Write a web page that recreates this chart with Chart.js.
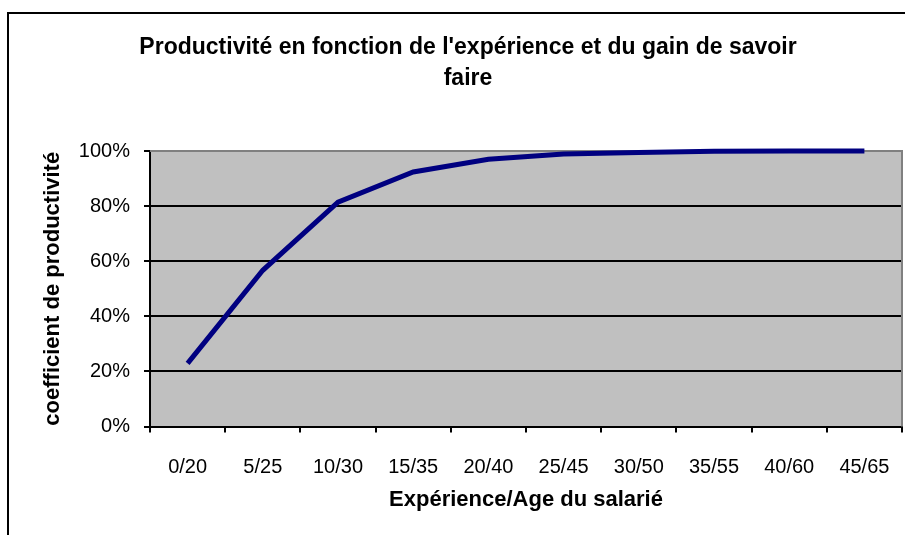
<!DOCTYPE html>
<html><head><meta charset="utf-8">
<script src="https://cdn.jsdelivr.net/npm/chart.js@4/dist/chart.umd.min.js"></script>
<style>html,body{margin:0;padding:0;background:#fff;overflow:hidden;} canvas{display:block;}</style>
</head><body>
<canvas id="c" width="905" height="535"></canvas>
<script>
const categories = ['0/20','5/25','10/30','15/35','20/40','25/45','30/50','35/55','40/60','45/65'];
const productivity = [22.9, 56.7, 81.4, 92.4, 97.0, 98.9, 99.5, 99.9, 100, 100];
const yTickValues = [0, 20, 40, 60, 80, 100];
const titleLines = ["Productivité en fonction de l'expérience et du gain de savoir", "faire"];
const xTitle = 'Expérience/Age du salarié';
const yTitle = 'coefficient de productivité';

const FONT = "'Liberation Sans', Arial, sans-serif";

const framePlugin = {
  id: 'frame',
  beforeDraw(chart) {
    const ctx = chart.ctx;
    ctx.save();
    ctx.fillStyle = '#fff';
    ctx.fillRect(0, 0, chart.width, chart.height);
    ctx.fillStyle = '#000';
    ctx.fillRect(7, 12, 2, chart.height - 12);
    ctx.fillRect(7, 12, chart.width - 7, 2);
    const a = chart.chartArea;
    ctx.fillStyle = '#C0C0C0';
    ctx.fillRect(a.left, a.top, a.right - a.left, a.bottom - a.top);
    ctx.restore();
  },
  beforeDatasetsDraw(chart) {
    const ctx = chart.ctx, a = chart.chartArea;
    ctx.save();
    ctx.strokeStyle = '#808080';
    ctx.lineWidth = 2;
    ctx.beginPath();
    ctx.moveTo(a.left, a.top);
    ctx.lineTo(a.right, a.top);
    ctx.lineTo(a.right, a.bottom);
    ctx.stroke();
    ctx.restore();
  }
};

new Chart(document.getElementById('c'), {
  type: 'line',
  data: {
    labels: categories,
    datasets: [{
      data: productivity,
      borderColor: '#000080',
      borderWidth: 5,
      pointRadius: 0,
      tension: 0,
      clip: false,
      fill: false
    }]
  },
  options: {
    responsive: false,
    animation: false,
    devicePixelRatio: 1,
    layout: { padding: { left: 34, right: 3, top: 0, bottom: 0 } },
    plugins: {
      legend: { display: false },
      tooltip: { enabled: false },
      title: {
        display: true,
        text: titleLines,
        color: '#000',
        font: { family: FONT, size: 23, weight: 'bold', lineHeight: 31 / 23 },
        padding: { top: 32.5, bottom: 56.5 }
      }
    },
    scales: {
      x: {
        type: 'category',
        offset: true,
        grid: { offset: true, drawOnChartArea: false, drawTicks: true, tickLength: 6, color: '#000', lineWidth: 2 },
        border: { display: true, color: '#000', width: 2 },
        ticks: { color: '#000', font: { family: FONT, size: 20 }, padding: 23, maxRotation: 0, autoSkip: false },
        title: { display: true, text: xTitle, color: '#000', font: { family: FONT, size: 22, weight: 'bold', lineHeight: 1.2 }, padding: { top: 0, bottom: 21.8 } },
        afterFit(s) { s.height = 108.5; s.paddingLeft = 0; s.paddingRight = 0; }
      },
      y: {
        min: 0, max: 100,
        afterBuildTicks(s) { s.ticks = yTickValues.map(v => ({ value: v })); },
        grid: {
          drawTicks: true, tickLength: 6, lineWidth: 2,
          color: (c) => (c.tick && c.tick.value === 100) ? 'rgba(0,0,0,0)' : '#000',
          tickColor: '#000'
        },
        border: { display: true, color: '#000', width: 2 },
        ticks: { color: '#000', font: { family: FONT, size: 20 }, padding: 14, callback: (v) => v + '%' },
        title: { display: true, text: yTitle, color: '#000', font: { family: FONT, size: 22, weight: 'bold', lineHeight: 1.2 }, padding: { top: 5.8, bottom: 0 } },
        afterFit(s) { s.width = 116; s.paddingTop = 0; s.paddingBottom = 0; }
      }
    }
  },
  plugins: [framePlugin]
});
</script>
</body></html>
